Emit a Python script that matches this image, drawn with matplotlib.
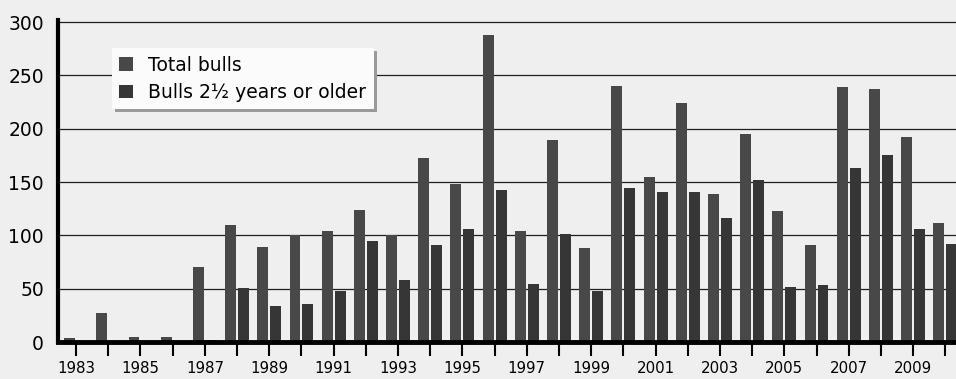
import numpy as np
import matplotlib.pyplot as plt

years = np.arange(1983, 2011)
total_bulls = [4, 27, 5, 5, 70, 110, 89, 100, 104, 124, 100, 173, 148, 288,
               104, 189, 88, 240, 155, 224, 139, 195, 123, 91, 239, 237, 192, 112]
older_bulls = [0, 0, 0, 0, 2, 51, 34, 36, 48, 95, 58, 91, 106, 143,
               54, 101, 48, 144, 141, 141, 116, 152, 52, 53, 163, 175, 106, 92]
year_labels = [str(y) if (y - 1983) % 2 == 0 else '' for y in years]

fig = plt.figure(figsize=(9.56, 3.79), dpi=100, facecolor='#efefef')
ax = fig.add_axes([58/956, 1-342/379, 1-58/956, 322/379])
ax.set_facecolor('#efefef')

w = 0.34
ax.bar(years - 0.2, total_bulls, width=w, color='#484848', label='Total bulls', zorder=2)
ax.bar(years + 0.2, older_bulls, width=w, color='#363636', label='Bulls 2½ years or older', zorder=2)

ax.set_xlim(1982.44, 2010.33)
ax.set_ylim(0, 302)
ax.set_yticks(np.arange(0, 301, 50))
ax.yaxis.grid(True, color='#1e1e1e', linewidth=0.9, zorder=1)
ax.set_axisbelow(True)

ax.set_xticks(years)
ax.set_xticklabels(year_labels)
ax.tick_params(axis='x', length=10, width=1.5, color='black', pad=4, labelsize=10.8)
ax.tick_params(axis='y', length=0, pad=10, labelsize=13.5)

for s in ['top', 'right']:
    ax.spines[s].set_visible(False)
ax.spines['left'].set_linewidth(3)
ax.spines['bottom'].set_linewidth(3.5)
ax.spines['left'].set_zorder(3)
ax.spines['bottom'].set_zorder(3)

leg = ax.legend(loc='upper left', bbox_to_anchor=(0.06, 0.913), borderaxespad=0,
                fontsize=13.5, frameon=True, fancybox=False, facecolor='#fbfbfb',
                edgecolor='none', framealpha=1, shadow={'color': '#9a9a9a', 'alpha': 1},
                handlelength=0.75, handleheight=0.75, handletextpad=0.8,
                labelspacing=0.45, borderpad=0.4)
leg.get_frame().set_linewidth(0)

fig.savefig('out.png', dpi=100, facecolor=fig.get_facecolor())
